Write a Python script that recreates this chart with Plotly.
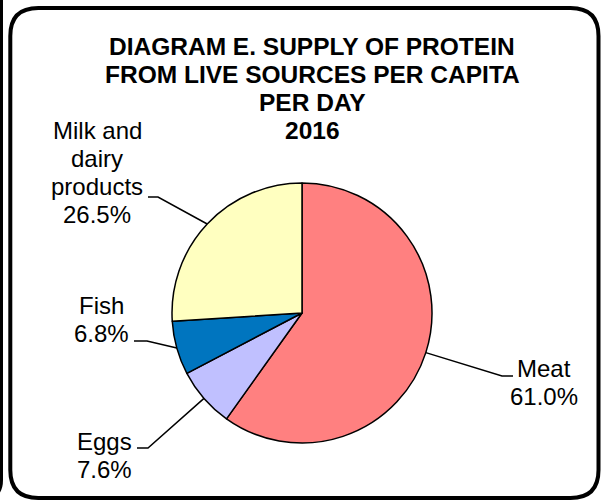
import math
import plotly.graph_objects as go

# Protein supply from live sources per capita per day, 2016 (shares, %)
categories = ["Meat", "Eggs", "Fish", "Milk and<br>dairy<br>products"]
shares = [61.0, 7.6, 6.8, 26.5]
slice_colors = ["#FF8080", "#C0C0FF", "#0075BF", "#FFFFC0"]
title_lines = ["DIAGRAM E. SUPPLY OF PROTEIN", "FROM LIVE SOURCES PER CAPITA",
               "PER DAY", "2016"]

W, H = 602, 502
CX, CY, R = 302, 313, 130  # pie centre and radius in pixels
FONT = "Liberation Sans, Arial"
PITCH = 28.2  # line pitch of the text blocks, px


def px(x):
    return x / W


def py(y):
    return 1 - y / H


fig = go.Figure()
fig.add_trace(go.Pie(
    values=shares,
    labels=[c.replace("<br>", " ") for c in categories],
    sort=False,
    direction="clockwise",
    rotation=0,
    textinfo="none",
    hoverinfo="label+value",
    marker=dict(colors=slice_colors, line=dict(color="black", width=1.5)),
    domain=dict(x=[px(CX - R), px(CX + R)], y=[py(CY + R), py(CY - R)]),
    showlegend=False,
))

# label blocks: centre x, centre y of first line, leader elbow and end
label_layout = [
    dict(x=544, y=368, elbow=(502, 376), end=(513, 376)),
    dict(x=104, y=441, elbow=(148, 448), end=(137, 448)),
    dict(x=101, y=305, elbow=(147, 341), end=(134, 341)),
    dict(x=97, y=130, elbow=(158, 197), end=(148, 197)),
]

shapes = []
annotations = []


def text_block(lines, cx, cy, size, bold=False):
    for i, line in enumerate(lines):
        annotations.append(dict(
            x=px(cx), y=py(cy + i * PITCH), xref="paper", yref="paper",
            text=f"<b>{line}</b>" if bold else line,
            showarrow=False, xanchor="center", yanchor="middle",
            font=dict(family=FONT, size=size, color="black"),
        ))


total = sum(shares)
start = 0.0
for name, val, lay in zip(categories, shares, label_layout):
    span = val / total * 360
    mid = math.radians(start + span / 2)
    start += span
    ex = CX + R * math.sin(mid)
    ey = CY - R * math.cos(mid)
    bx, by = lay["elbow"]
    tx, ty = lay["end"]
    shapes.append(dict(type="path", xref="paper", yref="paper",
                       path=f"M {px(ex)},{py(ey)} L {px(bx)},{py(by)} L {px(tx)},{py(ty)}",
                       line=dict(color="black", width=1.5)))
    text_block(name.split("<br>") + [f"{val:.1f}%"], lay["x"], lay["y"], 24)

text_block(title_lines, 312, 46, 24.5, bold=True)

# rounded frame of the panel
x0, y0, x1, y1, rr = 10.3, 8, 598.5, 498, 28
frame = (f"M {px(x0 + rr)},{py(y0)} L {px(x1 - rr)},{py(y0)} "
         f"Q {px(x1)},{py(y0)} {px(x1)},{py(y0 + rr)} "
         f"L {px(x1)},{py(y1 - rr)} Q {px(x1)},{py(y1)} {px(x1 - rr)},{py(y1)} "
         f"L {px(x0 + rr)},{py(y1)} Q {px(x0)},{py(y1)} {px(x0)},{py(y1 - rr)} "
         f"L {px(x0)},{py(y0 + rr)} Q {px(x0)},{py(y0)} {px(x0 + rr)},{py(y0)} Z")
shapes.append(dict(type="path", xref="paper", yref="paper", path=frame,
                   line=dict(color="black", width=4)))
# edge of the neighbouring panel
shapes.append(dict(type="path", xref="paper", yref="paper",
                   path=f"M {px(1.5)},{py(-5)} L {px(1.5)},{py(480)} Q {px(1.5)},{py(498)} {px(-16)},{py(498)}",
                   line=dict(color="black", width=3)))

fig.update_layout(
    width=W, height=H,
    margin=dict(l=0, r=0, t=0, b=0),
    paper_bgcolor="white", plot_bgcolor="white",
    shapes=shapes, annotations=annotations,
)
fig.write_html("out.html")
